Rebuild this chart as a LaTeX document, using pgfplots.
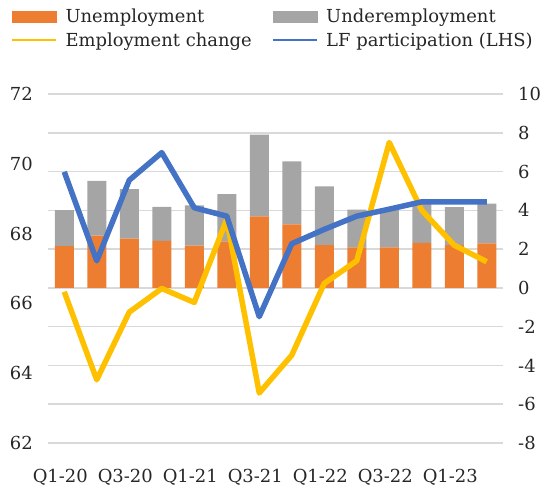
\documentclass[border=0pt]{standalone}
\usepackage{fontspec}
\setmainfont{DejaVu Serif}
\usepackage{pgfplots}
\usepackage{pgfplotstable}
\pgfplotsset{compat=1.18}
\definecolor{cOrange}{HTML}{ED7D31}
\definecolor{cGray}{HTML}{A5A5A5}
\definecolor{cYellow}{HTML}{FFC000}
\definecolor{cBlue}{HTML}{4472C4}
\definecolor{cGrid}{HTML}{D9D9D9}
\definecolor{cText}{HTML}{262626}

\pgfplotstableread{
x unemp under emp lf
0  2.16 1.85 -0.20 69.77
1  2.69 2.83 -4.74 67.22
2  2.54 2.55 -1.25 69.53
3  2.42 1.76 -0.03 70.32
4  2.18 2.07 -0.75 68.74
5  2.40 2.43  3.53 68.50
6  3.69 4.21 -5.42 65.62
7  3.27 3.25 -3.47 67.71
8  2.21 3.02  0.23 68.12
9  2.09 1.94  1.40 68.50
10 2.09 1.97  7.50 68.70
11 2.32 2.03  4.00 68.91
12 2.21 1.95  2.20 68.91
13 2.29 2.05  1.35 68.91
}\data

\pgfplotsset{
  base/.style={
    at={(48bp,44bp)}, anchor=south west,
    scale only axis, width=455bp, height=349bp,
    xmin=-0.5, xmax=13.5,
    major tick length=0pt,
    axis line style={draw=none},
    tick label style={font=\fontsize{18}{21}\selectfont, text=cText},
  }
}

\begin{document}
\begin{tikzpicture}
\useasboundingbox (0,0) rectangle (540bp,487bp);
% bars (right axis)
\begin{axis}[base,
  ymin=-8, ymax=10,
  ytick={-8,-6,...,10}, yticklabels={-8,-6,-4,-2,0,2,4,6,8,10},
  yticklabel pos=right,
  yticklabel style={inner sep=0pt, xshift=15bp},
  xtick={0,2,...,12}, xticklabels={Q1-20,Q3-20,Q1-21,Q3-21,Q1-22,Q3-22,Q1-23},
  xticklabel style={inner sep=0pt, anchor=north, yshift=-26bp, xshift=-4bp},
  ymajorgrids, grid style={cGrid, line width=1.5bp},
  ybar stacked, bar width=19bp,
]
\addplot[fill=cOrange, draw=none] table[x=x, y=unemp] {\data};
\addplot[fill=cGray, draw=none] table[x=x, y=under] {\data};
\end{axis}
% employment change (right axis scale)
\begin{axis}[base,
  ymin=-8, ymax=10, hide axis,
]
\addplot[cYellow, line width=5.5bp, line join=round, mark=none] table[x=x, y=emp] {\data};
\end{axis}
% LF participation (left axis)
\begin{axis}[base,
  ymin=62, ymax=72,
  ytick={62,64,...,72}, yticklabels={62,64,66,68,70,72},
  yticklabel pos=left,
  yticklabel style={inner sep=0pt, xshift=-15bp},
  xtick=\empty,
  legend style={at={(axis description cs:-0.0813,1.2436)}, anchor=north west,
    draw=none, fill=none, inner sep=0pt, outer sep=0pt,
    column sep=8bp, row sep=8.5bp,
    /tikz/every even column/.append style={column sep=20bp},
    nodes={inner sep=0pt, anchor=west, text=cText},
    font=\fontsize{18}{21}\selectfont},
  legend columns=2, legend cell align=left,
]
\addlegendimage{legend image code/.code={\fill[cOrange] (0bp,-5.5bp) rectangle (44bp,5.5bp);}}
\addlegendentry{Unemployment}
\addlegendimage{legend image code/.code={\fill[cGray] (0bp,-5.5bp) rectangle (44bp,5.5bp);}}
\addlegendentry{Underemployment}
\addlegendimage{legend image code/.code={\draw[cYellow, line width=2.5bp] (0bp,0bp) -- (44bp,0bp);}}
\addlegendentry{Employment change}
\addplot[cBlue, line width=5.5bp, line join=round, mark=none,
  legend image code/.code={\draw[cBlue, line width=2.5bp] (0bp,0bp) -- (44bp,0bp);}]
  table[x=x, y=lf] {\data};
\addlegendentry{LF participation (LHS)}
\end{axis}
\end{tikzpicture}
\end{document}
